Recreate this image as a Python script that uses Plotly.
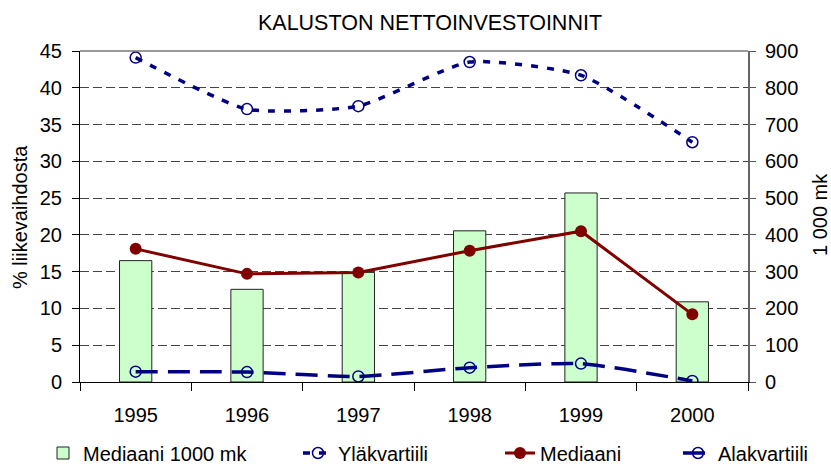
import plotly.graph_objects as go

years = ["1995", "1996", "1997", "1998", "1999", "2000"]
mediaani_mk = [330, 252, 298, 411, 514, 218]
ylakvartiili = [44.1, 37.1, 37.5, 43.5, 41.7, 32.6]
mediaani = [18.1, 14.7, 14.9, 17.85, 20.5, 9.2]
alakvartiili = [1.4, 1.35, 0.75, 1.95, 2.5, 0.15]

left_ticks = list(range(0, 46, 5))
right_ticks = list(range(0, 901, 100))

FONT = "Liberation Sans, Arial, sans-serif"
NAVY = "#000080"
RED = "#800000"

fig = go.Figure()

fig.add_trace(go.Bar(
    x=years, y=mediaani_mk, name="Mediaani 1000 mk", yaxis="y", legend="legend",
    marker=dict(color="#CCFFCC", line=dict(color="#222222", width=1)),
    width=0.29,
))
fig.add_trace(go.Scatter(
    x=years, y=ylakvartiili, name="Yläkvartiili", yaxis="y2", legend="legend2",
    mode="lines+markers",
    line=dict(color=NAVY, width=3.5, dash="7px,9px", shape="spline", smoothing=0.55),
    marker=dict(symbol="circle-open", size=11, color=NAVY, line=dict(width=1.5)),
))
fig.add_trace(go.Scatter(
    x=years, y=mediaani, name="Mediaani", yaxis="y2", legend="legend3",
    mode="lines+markers",
    line=dict(color=RED, width=3),
    marker=dict(symbol="circle", size=12, color=RED),
))
fig.add_trace(go.Scatter(
    x=years, y=alakvartiili, name="Alakvartiili", yaxis="y2", legend="legend4",
    mode="lines+markers",
    line=dict(color=NAVY, width=3.5, dash="22px,10px", shape="spline", smoothing=0.55),
    marker=dict(symbol="circle-open", size=11, color=NAVY, line=dict(width=1.5)),
))


def leg(xpx):
    return dict(orientation="h", xref="container", yref="container",
                x=xpx / 831, xanchor="left", y=1 - 453 / 464, yanchor="middle",
                font=dict(size=20, family=FONT), bgcolor="rgba(0,0,0,0)")


fig.update_layout(
    width=831, height=464,
    margin=dict(l=80, r=83, t=51, b=82, autoexpand=False),
    paper_bgcolor="white", plot_bgcolor="white",
    font=dict(family=FONT, size=20, color="#000000"),
    title=dict(text="KALUSTON NETTOINVESTOINNIT", xref="container", x=430 / 831,
               xanchor="center", y=1 - 22 / 464, yanchor="middle",
               font=dict(size=21.5, family=FONT)),
    showlegend=True,
    legend=leg(43),
    legend2=leg(298),
    legend3=leg(500),
    legend4=leg(678),
    xaxis=dict(
        type="category", range=[-0.5, 5.5], tickson="boundaries",
        ticks="outside", ticklen=8, tickcolor="#000000",
        showline=True, linecolor="#000000", linewidth=1,
        showgrid=False, ticklabelstandoff=15, automargin=False,
    ),
    yaxis=dict(
        side="right", range=[0, 900], tickvals=right_ticks,
        ticks="outside", ticklen=6, tickcolor="#555555",
        showline=True, linecolor="#666666", linewidth=2,
        showgrid=True, gridcolor="#444444", griddash="9px,4px", gridwidth=1,
        zeroline=False, automargin=False, ticklabelstandoff=5,
    ),
    yaxis2=dict(
        overlaying="y", side="left", anchor="x", range=[0, 45], tickvals=left_ticks,
        ticks="outside", ticklen=7, tickcolor="#000000",
        showline=True, linecolor="#000000", linewidth=1,
        showgrid=False, zeroline=False, automargin=False, ticklabelstandoff=6,
    ),
)

fig.add_shape(type="line", xref="paper", yref="paper", x0=0, x1=1, y0=1, y1=1,
              line=dict(color="#777777", width=1.5))

fig.add_annotation(text="% liikevaihdosta", textangle=-90, showarrow=False,
                   xref="paper", yref="paper", x=(20 - 80) / 668, y=(382 - 217) / 331,
                   xanchor="center", yanchor="middle", font=dict(size=20, family=FONT))
fig.add_annotation(text="1 000 mk", textangle=-90, showarrow=False,
                   xref="paper", yref="paper", x=(820 - 80) / 668, y=(382 - 215) / 331,
                   xanchor="center", yanchor="middle", font=dict(size=20, family=FONT))

fig.write_html("out.html", config={"displayModeBar": False},
               post_script="document.body.style.margin='0';")
